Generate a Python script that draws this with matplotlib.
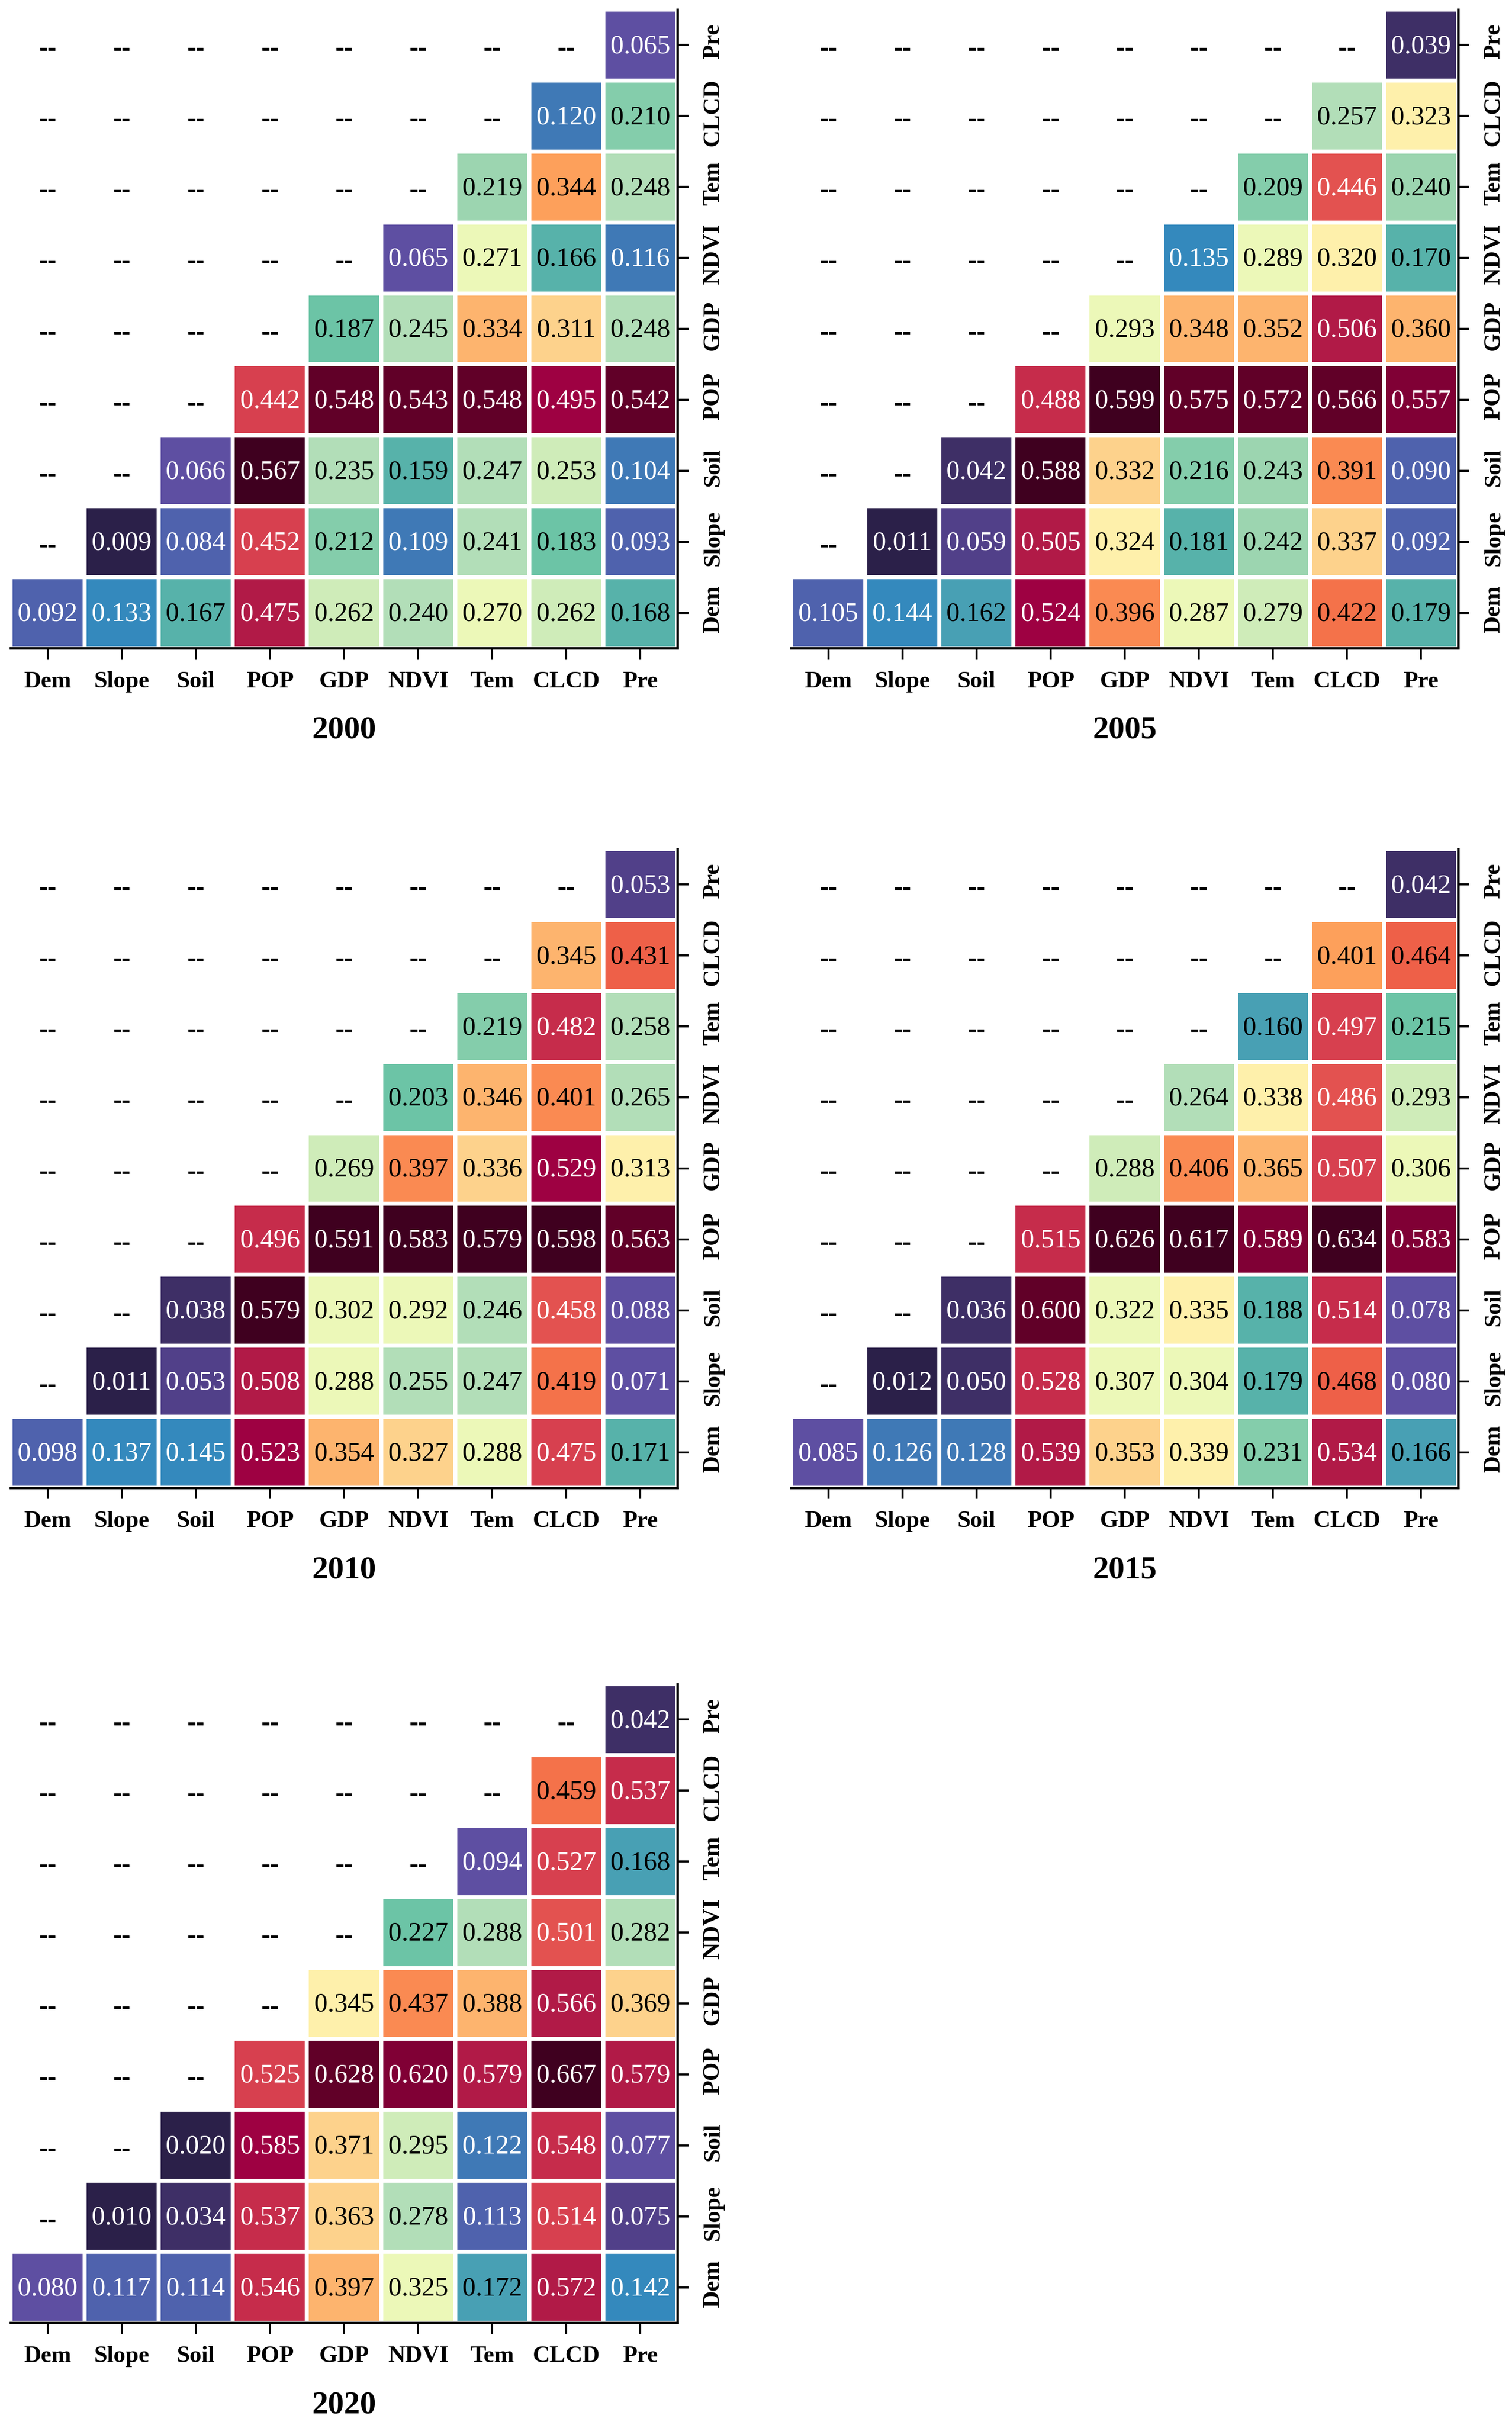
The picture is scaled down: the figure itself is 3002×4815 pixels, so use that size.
import numpy as np
import matplotlib
matplotlib.use('Agg')
import matplotlib.pyplot as plt
import matplotlib.patheffects as pe
from matplotlib.colors import ListedColormap
from matplotlib.transforms import ScaledTranslation

plt.rcParams['font.family'] = ['Liberation Serif', 'DejaVu Serif']

factors = ['Dem', 'Slope', 'Soil', 'POP', 'GDP', 'NDVI', 'Tem', 'CLCD', 'Pre']
years = ['2000', '2005', '2010', '2015', '2020']

# rows go from Dem (bottom) to Pre (top), each row starts on the diagonal
q_2000 = [[.092, .133, .167, .475, .262, .240, .270, .262, .168],
          [.009, .084, .452, .212, .109, .241, .183, .093],
          [.066, .567, .235, .159, .247, .253, .104],
          [.442, .548, .543, .548, .495, .542],
          [.187, .245, .334, .311, .248],
          [.065, .271, .166, .116],
          [.219, .344, .248],
          [.120, .210],
          [.065]]
q_2005 = [[.105, .144, .162, .524, .396, .287, .279, .422, .179],
          [.011, .059, .505, .324, .181, .242, .337, .092],
          [.042, .588, .332, .216, .243, .391, .090],
          [.488, .599, .575, .572, .566, .557],
          [.293, .348, .352, .506, .360],
          [.135, .289, .320, .170],
          [.209, .446, .240],
          [.257, .323],
          [.039]]
q_2010 = [[.098, .137, .145, .523, .354, .327, .288, .475, .171],
          [.011, .053, .508, .288, .255, .247, .419, .071],
          [.038, .579, .302, .292, .246, .458, .088],
          [.496, .591, .583, .579, .598, .563],
          [.269, .397, .336, .529, .313],
          [.203, .346, .401, .265],
          [.219, .482, .258],
          [.345, .431],
          [.053]]
q_2015 = [[.085, .126, .128, .539, .353, .339, .231, .534, .166],
          [.012, .050, .528, .307, .304, .179, .468, .080],
          [.036, .600, .322, .335, .188, .514, .078],
          [.515, .626, .617, .589, .634, .583],
          [.288, .406, .365, .507, .306],
          [.264, .338, .486, .293],
          [.160, .497, .215],
          [.401, .464],
          [.042]]
q_2020 = [[.080, .117, .114, .546, .397, .325, .172, .572, .142],
          [.010, .034, .537, .363, .278, .113, .514, .075],
          [.020, .585, .371, .295, .122, .548, .077],
          [.525, .628, .620, .579, .667, .579],
          [.345, .437, .388, .566, .369],
          [.227, .288, .501, .282],
          [.094, .527, .168],
          [.459, .537],
          [.042]]
all_rows = [q_2000, q_2005, q_2010, q_2015, q_2020]

# the cells fall into 30 equal bins between each panel's min and max
colors = ['#2b2049', '#3e2f66', '#514089', '#5e4fa2', '#4f62ad', '#3f79b6',
          '#3489bd', '#48a0b4', '#57b2aa', '#6cc4a6', '#84cdab', '#9cd5b0',
          '#b2deb8', '#cfecb9', '#ecf8b8', '#fef0ab', '#fdd28c', '#fdb46e',
          '#fda05b', '#fa8a52', '#f4724a', '#ee6048', '#e35250', '#d7404f',
          '#c62c4b', '#b11a47', '#9e0142', '#800035', '#610028', '#3f001f']
cmap = ListedColormap(colors)

W, H = 3002, 4815
lefts = [21, 1571, 21, 1571, 21]
bottoms = [1287, 1287, 2954, 2954, 4612]
ax_w, ax_h = 1324, 1268

fig = plt.figure(figsize=(W / 100, H / 100), dpi=100)

for year, rows, left, bottom in zip(years, all_rows, lefts, bottoms):
    ax = fig.add_axes([left / W, 1 - bottom / H, ax_w / W, ax_h / H])
    grid = np.full((9, 9), np.nan)
    for i, row in enumerate(rows):
        grid[i, i:] = row
    vmin, vmax = np.nanmin(grid), np.nanmax(grid)
    ax.pcolormesh(np.ma.masked_invalid(grid), cmap=cmap, vmin=vmin, vmax=vmax,
                  edgecolors='white', linewidth=5.4)
    for i in range(9):
        for j in range(9):
            v = grid[i, j]
            if np.isnan(v):
                # the dashes are heavier than the bold hyphen of the font
                ax.text(j + 0.5, i + 0.445, '--', ha='center', va='center',
                        fontsize=36, fontweight='bold', color='black',
                        path_effects=[pe.withStroke(linewidth=0.6, foreground='black')])
            else:
                level = min(int((v - vmin) / (vmax - vmin) * 30), 29)
                color = 'white' if level <= 6 or level >= 22 else 'black'
                ax.text(j + 0.5, i + 0.48, f'{v:.3f}', ha='center', va='center',
                        fontsize=38, color=color)
    ax.set_xlim(0, 9)
    ax.set_ylim(0, 9)
    ax.set_xticks(np.arange(9) + 0.5)
    ax.set_xticklabels(factors, fontsize=34, fontweight='bold')
    ax.set_yticks(np.arange(9) + 0.5)
    ax.set_yticklabels(factors, fontsize=34, fontweight='bold', rotation=90, va='center')
    ax.yaxis.tick_right()
    ax.tick_params(axis='x', length=16, width=3, pad=17)
    ax.tick_params(axis='y', length=16, width=3, pad=20)
    # the right hand labels sit a little above their ticks
    for tick in ax.yaxis.get_major_ticks():
        tick.label2.set_transform(tick.label2.get_transform()
                                  + ScaledTranslation(0, 0.07, fig.dpi_scale_trans))
    ax.spines['top'].set_visible(False)
    ax.spines['left'].set_visible(False)
    ax.spines['right'].set_linewidth(3.5)
    ax.spines['bottom'].set_linewidth(3.5)
    ax.text(0.5, -164 / ax_h, year, transform=ax.transAxes, ha='center',
            va='center', fontsize=46, fontweight='bold')

fig.savefig('out.png', dpi=100, facecolor='white')
